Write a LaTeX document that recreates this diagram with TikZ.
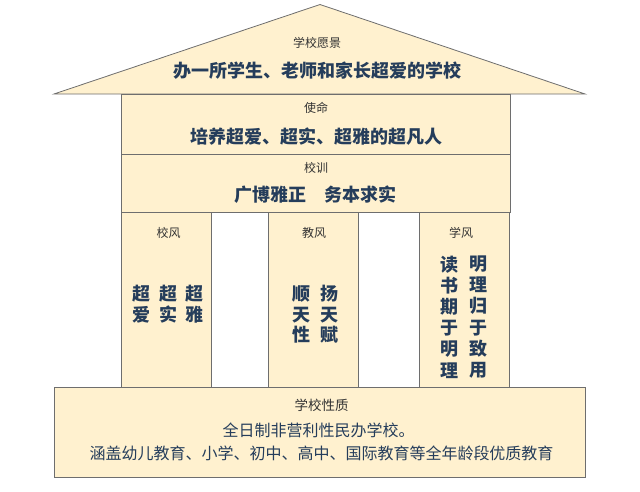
\documentclass[tikz,border=0pt]{standalone}
\usepackage{fontspec}
\setmainfont{Noto Sans CJK SC}
\definecolor{cream}{HTML}{FFF1CF}
\definecolor{edge}{HTML}{6E6E6E}
\definecolor{ink}{HTML}{253D5B}
\definecolor{labelink}{HTML}{333333}
\tikzset{
  panel/.style={draw=edge, line width=0.8pt, fill=cream, inner sep=0pt},
  lab/.style={text=labelink, font=\fontsize{12}{14}\selectfont, inner sep=0pt},
  bigtext/.style={text=ink, font=\bfseries\fontsize{18}{20}\selectfont, inner sep=0pt},
  basetext/.style={text=ink, font=\fontsize{16}{18}\selectfont, inner sep=0pt},
  vcol/.style={text=ink, font=\bfseries\fontsize{18}{20.5}\selectfont, align=center, inner sep=0pt},
}
\begin{document}
\begin{tikzpicture}[x=1pt,y=-1pt]
\useasboundingbox (0,0) rectangle (640,491);
% roof
\draw[panel] (320,4.5) coordinate (apex) -- (54,94) coordinate (roofL) -- (585,94) coordinate (roofR) -- cycle;
% body panels
\node[panel, minimum width=389pt, minimum height=60pt] (mission) at (315.5,124) {};
\node[panel, minimum width=389pt, minimum height=58pt] (motto) at (315.5,183) {};
\node[panel, minimum width=90pt, minimum height=175pt] (col1) at (166,299.5) {};
\node[panel, minimum width=90pt, minimum height=175pt] (col2) at (313,299.5) {};
\node[panel, minimum width=90pt, minimum height=175pt] (col3) at (464,299.5) {};
\node[panel, minimum width=531pt, minimum height=90pt] (base) at (319.5,432) {};
% roof texts
\node[lab] (visionlab) at (317,43) {学校愿景};
\node[bigtext] (vision) at (317,71) {办一所学生、老师和家长超爱的学校};
% mission
\node[lab] (missionlab) at (316,108) {使命};
\node[bigtext] (missiontxt) at (316.5,137) {培养超爱、超实、超雅的超凡人};
% motto
\node[lab] (mottolab) at (316,168) {校训};
\node[bigtext] (mottotxt) at (315,195) {广博雅正\hspace{18pt}务本求实};
% columns
\node[lab] (col1lab) at (168.5,233) {校风};
\node[lab] (col2lab) at (314,233) {教风};
\node[lab] (col3lab) at (461,233) {学风};
\node[vcol] (c1a) at (141.7,304) {超\\爱};
\node[vcol] (c1b) at (168,304) {超\\实};
\node[vcol] (c1c) at (194,304) {超\\雅};
\node[vcol] (c2a) at (301,314.5) {顺\\天\\性};
\node[vcol] (c2b) at (329,314.5) {扬\\天\\赋};
\node[vcol, font=\bfseries\fontsize{18}{21.2}\selectfont] (c3a) at (449,317) {读\\书\\期\\于\\明\\理};
\node[vcol, font=\bfseries\fontsize{18}{21.2}\selectfont] (c3b) at (478,317) {明\\理\\归\\于\\致\\用};
% base
\node[lab, font=\fontsize{13.5}{15}\selectfont] (baselab) at (321.5,405) {学校性质};
\node[basetext] (base1) at (318.5,430) {全日制非营利性民办学校。};
\node[basetext] (base2) at (321.5,453) {涵盖幼儿教育、小学、初中、高中、国际教育等全年龄段优质教育};
\end{tikzpicture}
\end{document}
